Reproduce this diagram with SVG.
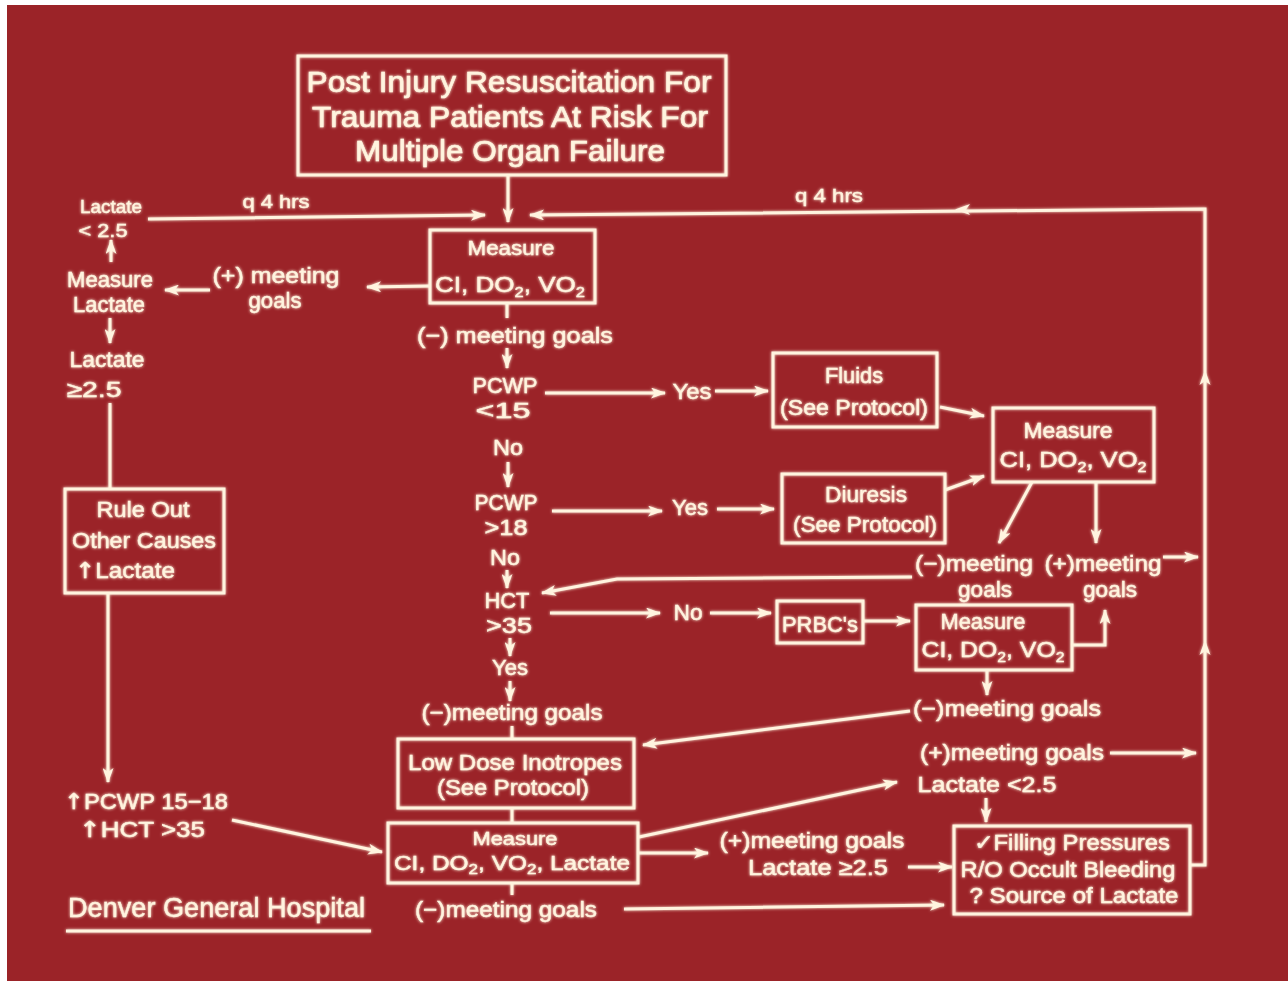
<svg xmlns="http://www.w3.org/2000/svg" xmlns:xlink="http://www.w3.org/1999/xlink" width="1288" height="981" viewBox="0 0 1288 981">
<style>
text{font-family:"Liberation Sans",Arial,sans-serif;fill:#fff4df;stroke:#fff4df;stroke-width:0.4;text-anchor:middle;font-size:22px}
.t{font-size:30px;stroke-width:0.6}
.s{font-size:19px}
.sub{font-size:14px}
.up{font-family:"DejaVu Sans",sans-serif}
.box{fill:none;stroke:#fff4df;stroke-width:3}
.c{fill:none;stroke:#fff4df;stroke-width:3}
.a{marker-end:url(#arr)}
.ah{fill:#fff4df}
</style>
<defs>
<marker id="arr" markerUnits="userSpaceOnUse" markerWidth="15" markerHeight="11" viewBox="0 0 15 11" refX="14" refY="5.5" orient="auto">
<path d="M0,0 L15,5.5 L0,11 L4,5.5 Z" fill="#fff4df"/>
</marker>
<path id="ah" d="M0,0 L-15,-5.5 L-11,0 L-15,5.5 Z"/>
<filter id="glow" x="-5%" y="-5%" width="110%" height="110%">
<feGaussianBlur stdDeviation="1.4" result="b"/>
<feMerge><feMergeNode in="b"/><feMergeNode in="SourceGraphic"/></feMerge>
</filter>
</defs>
<rect x="0" y="0" width="1288" height="981" fill="#ffffff"/>
<rect x="7" y="5" width="1281" height="976" fill="#9b2328"/>
<g filter="url(#glow)">
<g id="connectors">
<path class="c a" d="M508,175 V222"/>
<path class="c a" d="M148,219 L485,215"/>
<path class="c a" d="M1190,865 H1205 V209 L530,215"/>
<use href="#ah" class="ah" transform="translate(955,209.5) rotate(180)"/>
<use href="#ah" class="ah" transform="translate(1205,370) rotate(-90)"/>
<use href="#ah" class="ah" transform="translate(1205,640) rotate(-90)"/>
<path class="c a" d="M430,286 L367,287"/>
<path class="c a" d="M210,290 L165,290"/>
<path class="c a" d="M111,262 V240"/>
<path class="c a" d="M110,318 V343"/>
<path class="c" d="M110,403 V489"/>
<path class="c a" d="M108,593 V782"/>
<path class="c a" d="M232,820 L382,852"/>
<path class="c" d="M507,303 V318"/>
<path class="c a" d="M507,348 V368"/>
<path class="c a" d="M545,393 L665,393"/>
<path class="c a" d="M715,391 L768,391"/>
<path class="c a" d="M940,407 L984,416"/>
<path class="c a" d="M508,462 V487"/>
<path class="c a" d="M552,511 L662,511"/>
<path class="c a" d="M717,509 L774,509"/>
<path class="c a" d="M945,490 L984,476"/>
<path class="c a" d="M1032,482 L999,543"/>
<path class="c a" d="M1096,482 V543"/>
<path class="c a" d="M1163,557 L1198,557"/>
<path class="c a" d="M912,577 L617,579 L542,593"/>
<path class="c a" d="M507,570 V588"/>
<path class="c a" d="M550,613 L660,613"/>
<path class="c a" d="M710,613 L771,613"/>
<path class="c a" d="M863,621 L910,621"/>
<path class="c a" d="M1072,645 H1105 V610"/>
<path class="c a" d="M987,670 V695"/>
<path class="c a" d="M910,711 L643,745"/>
<path class="c a" d="M510,638 V656"/>
<path class="c a" d="M510,681 V701"/>
<path class="c" d="M512,726 V739"/>
<path class="c" d="M512,808 V823"/>
<path class="c" d="M512,883 V895"/>
<path class="c a" d="M639,837 L897,782"/>
<path class="c a" d="M639,853 L708,853"/>
<path class="c a" d="M908,867 L952,867"/>
<path class="c a" d="M1110,753 L1196,753"/>
<path class="c a" d="M986,798 V822"/>
<path class="c a" d="M624,909 L944,905"/>
</g>
<g id="title">
<rect class="box" x="298" y="56" width="428" height="119"/>
<text class="t" x="509" y="92" textLength="405" lengthAdjust="spacingAndGlyphs">Post Injury Resuscitation For</text>
<text class="t" x="510" y="127" textLength="396" lengthAdjust="spacingAndGlyphs">Trauma Patients At Risk For</text>
<text class="t" x="510" y="161" textLength="310" lengthAdjust="spacingAndGlyphs">Multiple Organ Failure</text>
</g>
<g id="q4hrs-left"><text class="s" x="276" y="208" textLength="67" lengthAdjust="spacingAndGlyphs">q 4 hrs</text></g>
<g id="q4hrs-right"><text class="s" x="829" y="202" textLength="68" lengthAdjust="spacingAndGlyphs">q 4 hrs</text></g>
<g id="lactate-lt">
<text class="s" x="111" y="213" textLength="62" lengthAdjust="spacingAndGlyphs">Lactate</text>
<text class="s" x="103" y="237" textLength="49" lengthAdjust="spacingAndGlyphs">&lt; 2.5</text>
</g>
<g id="measure-lactate">
<text x="110" y="287" textLength="86" lengthAdjust="spacingAndGlyphs">Measure</text>
<text x="109" y="312" textLength="72" lengthAdjust="spacingAndGlyphs">Lactate</text>
</g>
<g id="pos-goals-1">
<text x="276" y="283" textLength="127" lengthAdjust="spacingAndGlyphs">(+) meeting</text>
<text x="275" y="308" textLength="53" lengthAdjust="spacingAndGlyphs">goals</text>
</g>
<g id="lactate-ge">
<text x="107" y="367" textLength="75" lengthAdjust="spacingAndGlyphs">Lactate</text>
<text x="94" y="397" textLength="55" lengthAdjust="spacingAndGlyphs">≥2.5</text>
</g>
<g id="rule-out">
<rect class="box" x="65" y="489" width="159" height="104"/>
<text x="143" y="517" textLength="93" lengthAdjust="spacingAndGlyphs">Rule Out</text>
<text x="144" y="548" textLength="144" lengthAdjust="spacingAndGlyphs">Other Causes</text>
<text x="125" y="578" textLength="100" lengthAdjust="spacingAndGlyphs"><tspan class="up">↑</tspan>Lactate</text>
</g>
<g id="pcwp-hct-up">
<text x="146" y="809" textLength="164" lengthAdjust="spacingAndGlyphs"><tspan class="up">↑</tspan>PCWP 15−18</text>
<text x="142" y="837" textLength="126" lengthAdjust="spacingAndGlyphs"><tspan class="up">↑</tspan>HCT &gt;35</text>
</g>
<g id="denver">
<text x="216.5" y="917" style="font-size:28px" textLength="297" lengthAdjust="spacingAndGlyphs">Denver General Hospital</text>
<line class="c" x1="66" y1="931" x2="371" y2="931"/>
</g>
<g id="measure-1">
<rect class="box" x="430" y="230" width="165" height="73"/>
<text x="511" y="255" style="font-size:20px" textLength="87" lengthAdjust="spacingAndGlyphs">Measure</text>
<text x="510" y="292" textLength="150" lengthAdjust="spacingAndGlyphs">CI, DO<tspan class="sub" dy="5">2</tspan><tspan dy="-5">, VO</tspan><tspan class="sub" dy="5">2</tspan></text>
</g>
<g id="neg-goals-1"><text x="515" y="343" textLength="196" lengthAdjust="spacingAndGlyphs">(−) meeting goals</text></g>
<g id="pcwp15">
<text x="505" y="393" textLength="65" lengthAdjust="spacingAndGlyphs">PCWP</text>
<text x="503" y="418" textLength="55" lengthAdjust="spacingAndGlyphs">&lt;15</text>
</g>
<g id="yes-1"><text x="692" y="399" textLength="39" lengthAdjust="spacingAndGlyphs">Yes</text></g>
<g id="fluids">
<rect class="box" x="773" y="353" width="164" height="74"/>
<text x="854" y="383" textLength="58" lengthAdjust="spacingAndGlyphs">Fluids</text>
<text x="854" y="415" textLength="148" lengthAdjust="spacingAndGlyphs">(See Protocol)</text>
</g>
<g id="no-1"><text x="508" y="455" textLength="30" lengthAdjust="spacingAndGlyphs">No</text></g>
<g id="pcwp18">
<text x="506" y="510" textLength="63" lengthAdjust="spacingAndGlyphs">PCWP</text>
<text x="506" y="535" textLength="43" lengthAdjust="spacingAndGlyphs">&gt;18</text>
</g>
<g id="yes-2"><text x="690" y="515" textLength="36" lengthAdjust="spacingAndGlyphs">Yes</text></g>
<g id="diuresis">
<rect class="box" x="782" y="474" width="163" height="69"/>
<text x="866" y="502" textLength="82" lengthAdjust="spacingAndGlyphs">Diuresis</text>
<text x="865" y="532" textLength="144" lengthAdjust="spacingAndGlyphs">(See Protocol)</text>
</g>
<g id="measure-2">
<rect class="box" x="993" y="408" width="161" height="74"/>
<text x="1068" y="438" textLength="89" lengthAdjust="spacingAndGlyphs">Measure</text>
<text x="1073" y="467" textLength="147" lengthAdjust="spacingAndGlyphs">CI, DO<tspan class="sub" dy="5">2</tspan><tspan dy="-5">, VO</tspan><tspan class="sub" dy="5">2</tspan></text>
</g>
<g id="neg-goals-2">
<text x="974" y="571" textLength="118" lengthAdjust="spacingAndGlyphs">(−)meeting</text>
<text x="985" y="597" textLength="54" lengthAdjust="spacingAndGlyphs">goals</text>
</g>
<g id="pos-goals-2">
<text x="1103" y="571" textLength="117" lengthAdjust="spacingAndGlyphs">(+)meeting</text>
<text x="1110" y="597" textLength="54" lengthAdjust="spacingAndGlyphs">goals</text>
</g>
<g id="no-2"><text x="505" y="565" textLength="30" lengthAdjust="spacingAndGlyphs">No</text></g>
<g id="hct35">
<text x="507" y="608" textLength="45" lengthAdjust="spacingAndGlyphs">HCT</text>
<text x="509" y="633" textLength="46" lengthAdjust="spacingAndGlyphs">&gt;35</text>
</g>
<g id="no-3"><text x="688" y="620" textLength="29" lengthAdjust="spacingAndGlyphs">No</text></g>
<g id="prbc">
<rect class="box" x="777" y="601" width="86" height="42"/>
<text x="820" y="632" textLength="76" lengthAdjust="spacingAndGlyphs">PRBC's</text>
</g>
<g id="measure-3">
<rect class="box" x="916" y="605" width="156" height="65"/>
<text x="983" y="629" textLength="85" lengthAdjust="spacingAndGlyphs">Measure</text>
<text x="993" y="657" textLength="143" lengthAdjust="spacingAndGlyphs">CI, DO<tspan class="sub" dy="5">2</tspan><tspan dy="-5">, VO</tspan><tspan class="sub" dy="5">2</tspan></text>
</g>
<g id="yes-3"><text x="510" y="675" textLength="36" lengthAdjust="spacingAndGlyphs">Yes</text></g>
<g id="neg-goals-3"><text x="512" y="720" textLength="181" lengthAdjust="spacingAndGlyphs">(−)meeting goals</text></g>
<g id="neg-goals-4"><text x="1007" y="716" textLength="188" lengthAdjust="spacingAndGlyphs">(−)meeting goals</text></g>
<g id="inotropes">
<rect class="box" x="398" y="739" width="236" height="69"/>
<text x="515" y="770" textLength="214" lengthAdjust="spacingAndGlyphs">Low Dose Inotropes</text>
<text x="513" y="795" textLength="152" lengthAdjust="spacingAndGlyphs">(See Protocol)</text>
</g>
<g id="pos-goals-3">
<text x="1012" y="760" textLength="184" lengthAdjust="spacingAndGlyphs">(+)meeting goals</text>
<text x="987" y="792" textLength="139" lengthAdjust="spacingAndGlyphs">Lactate &lt;2.5</text>
</g>
<g id="measure-4">
<rect class="box" x="388" y="823" width="250" height="60"/>
<text x="515" y="845" style="font-size:18px" textLength="85" lengthAdjust="spacingAndGlyphs">Measure</text>
<text x="512" y="870" style="font-size:20px" textLength="236" lengthAdjust="spacingAndGlyphs">CI, DO<tspan class="sub" dy="4">2</tspan><tspan dy="-4">, VO</tspan><tspan class="sub" dy="4">2</tspan><tspan dy="-4">, Lactate</tspan></text>
</g>
<g id="pos-goals-4">
<text x="812" y="848" textLength="185" lengthAdjust="spacingAndGlyphs">(+)meeting goals</text>
<text x="818" y="875" textLength="140" lengthAdjust="spacingAndGlyphs">Lactate ≥2.5</text>
</g>
<g id="neg-goals-5"><text x="506" y="917" textLength="182" lengthAdjust="spacingAndGlyphs">(−)meeting goals</text></g>
<g id="filling">
<rect class="box" x="954" y="826" width="236" height="88"/>
<text x="1072" y="850" textLength="196" lengthAdjust="spacingAndGlyphs">✓Filling Pressures</text>
<text x="1068" y="877" textLength="215" lengthAdjust="spacingAndGlyphs">R/O Occult Bleeding</text>
<text x="1074" y="903" textLength="209" lengthAdjust="spacingAndGlyphs">? Source of Lactate</text>
</g>
</g>
</svg>
